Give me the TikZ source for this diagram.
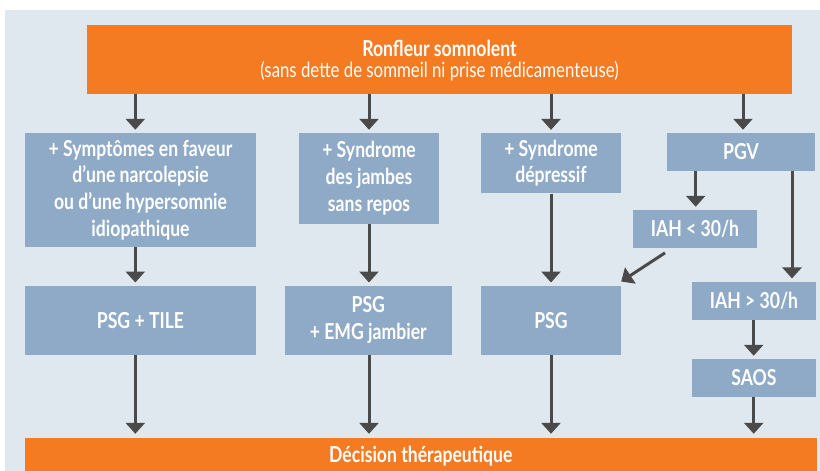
\documentclass[tikz,border=0pt]{standalone}
\usepackage{fontspec}
\setmainfont{Lato}[FakeStretch=0.80]
\usetikzlibrary{arrows.meta,calc}
\definecolor{bgc}{RGB}{223,231,239}
\definecolor{orangec}{RGB}{244,123,34}
\definecolor{boxc}{RGB}{143,170,198}
\definecolor{arrc}{RGB}{74,74,74}
\tikzset{
  bluebox/.style={fill=boxc,inner sep=0pt,align=center,text=white,font=\fontsize{22}{26.7}\selectfont\bfseries},
  orangebox/.style={fill=orangec,inner sep=0pt,align=center,text=white},
  arr/.style={draw=arrc,line width=3pt,-{Triangle[width=19pt,length=11pt]},shorten >=3pt}
}
\begin{document}
\begin{tikzpicture}[x=1pt,y=-1pt]
\useasboundingbox (0,0) rectangle (820,471);
\fill[bgc] (5,10) rectangle (820,471);
% top
\node[orangebox,minimum width=705pt,minimum height=68.7pt] (top) at (439.5,59.3) {};
\node[text=white,font=\fontsize{22}{24}\selectfont\bfseries] (t1) at (439.5,48) {Ronfleur somnolent};
\node[text=white,font=\fontsize{21}{24}\selectfont] (t2) at (439.5,71.5) {(sans dette de sommeil ni prise médicamenteuse)};
% row 2
\node[bluebox,minimum width=231pt,minimum height=113.7pt] (a) at (140.5,189.8) {+ Symptômes en faveur\\d’une narcolepsie\\ou d’une hypersomnie\\idiopathique};
\node[bluebox,minimum width=140pt,minimum height=90.7pt] (b) at (369,178.3) {+ Syndrome\\des jambes\\sans repos};
\node[bluebox,minimum width=140pt,minimum height=60.3pt] (c) at (551,163.2) {+ Syndrome\\dépressif};
\node[bluebox,minimum width=148pt,minimum height=37.7pt] (pgv) at (741,151.8) {PGV};
\node[bluebox,minimum width=124pt,minimum height=37.7pt] (lo) at (695,228.8) {IAH < 30/h};
\node[bluebox,minimum width=124pt,minimum height=38.3pt] (hi) at (754,300.8) {IAH > 30/h};
\node[bluebox,minimum width=124pt,minimum height=37.7pt] (saos) at (754,377.8) {SAOS};
% row 3
\node[bluebox,minimum width=231pt,minimum height=69pt] (pa) at (140.5,320.2) {PSG + TILE};
\node[bluebox,minimum width=166.7pt,minimum height=69pt] (pb) at (368.3,320.2) {PSG\\+ EMG jambier};
\node[bluebox,minimum width=140pt,minimum height=69pt] (pc) at (551,320.2) {PSG};
% bottom
\node[orangebox,minimum width=791.7pt,minimum height=33pt] (bot) at (420.8,454.5) {};
\node[text=white,font=\fontsize{22}{24}\selectfont\bfseries] (bt) at (420.8,456.5) {Décision thérapeutique};
% x positions
\coordinate (xa) at (135.3,0);
\coordinate (xb) at (369,0);
\coordinate (xc) at (551,0);
\coordinate (xd) at (743,0);
\coordinate (xl) at (695.7,0);
\coordinate (xr) at (792,0);
\coordinate (xs) at (753.7,0);
% arrows
\draw[arr] (top.south -| xa) -- (a.north -| xa);
\draw[arr] (top.south -| xb) -- (b.north -| xb);
\draw[arr] (top.south -| xc) -- (c.north -| xc);
\draw[arr] (top.south -| xd) -- (pgv.north -| xd);
\draw[arr] (a.south -| xa) -- (pa.north -| xa);
\draw[arr] (b.south -| xb) -- (pb.north -| xb);
\draw[arr] (c.south -| xc) -- (pc.north -| xc);
\draw[arr] (pgv.south -| xl) -- (lo.north -| xl);
\draw[arr] (pgv.south -| xr) -- (hi.north -| xr);
\draw[arr] (hi.south -| xs) -- (saos.north -| xs);
\draw[arr,shorten >=0pt] ($(lo.south)+(-30,5)$) -- ($(pc.north east)+(0,-4)$);
\draw[arr,shorten >=4pt] (pa.south -| xa) -- (bot.north -| xa);
\draw[arr,shorten >=4pt] (pb.south -| xb) -- (bot.north -| xb);
\draw[arr,shorten >=4pt] (pc.south -| xc) -- (bot.north -| xc);
\draw[arr,shorten >=4pt] (saos.south -| xs) -- (bot.north -| xs);
\end{tikzpicture}
\end{document}
